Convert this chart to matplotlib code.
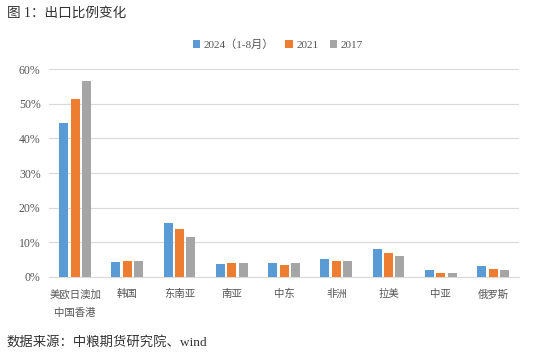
import matplotlib
matplotlib.use("Agg")
import matplotlib.pyplot as plt
import numpy as np

plt.rcParams['font.family'] = ['Liberation Serif', 'Noto Sans CJK SC', 'DejaVu Sans']

categories = ['美欧日澳加\n中国香港', '韩国', '东南亚', '南亚', '中东', '非洲', '拉美', '中亚', '俄罗斯']
series_names = ['2024（1-8月）', '2021', '2017']
v2024 = [44.5, 4.2, 15.5, 3.6, 4.0, 5.0, 7.9, 1.8, 3.2]
v2021 = [51.3, 4.5, 13.7, 3.9, 3.4, 4.5, 6.9, 1.0, 2.1]
v2017 = [56.6, 4.5, 11.6, 3.9, 4.0, 4.4, 5.9, 1.1, 1.9]
colors = ['#5B9BD5', '#ED7D31', '#A5A5A5']

fig = plt.figure(figsize=(5.5, 3.61), dpi=100)
ax = fig.add_axes([0.089, 0.2335, 0.855, 0.5745])

x = np.arange(len(categories))
w = 0.172
step = 0.217
for i, (vals, name) in enumerate(zip([v2024, v2021, v2017], series_names)):
    ax.bar(x + (i - 1) * step, np.array(vals) / 100, width=w, color=colors[i], label=name, zorder=3)

ax.set_xlim(-0.5, len(categories) - 0.5)
ax.set_ylim(0, 0.6)
ax.set_yticks(np.arange(0, 0.61, 0.1))
ax.set_yticklabels([f'{int(round(t*100))}%' for t in np.arange(0, 0.61, 0.1)], fontsize=8.5, color='#555555')
ax.set_xticks(x)
ax.set_xticklabels(categories, fontsize=7.5, color='#555555', linespacing=2.0, va='top')
ax.tick_params(axis='both', length=0)
ax.tick_params(axis='x', pad=9)
ax.tick_params(axis='y', pad=6)
ax.grid(axis='y', color='#D9D9D9', linewidth=0.8, zorder=0)
for s in ['top', 'right', 'left']:
    ax.spines[s].set_visible(False)
ax.spines['bottom'].set_color('#D9D9D9')
ax.spines['bottom'].set_linewidth(0.8)

fig.legend(loc='center', bbox_to_anchor=(0.505, 0.876), ncol=3, frameon=False, fontsize=8,
           handlelength=0.7, handleheight=0.7, handletextpad=0.3, columnspacing=1.0, labelcolor='#555555')

fig.text(0.012, 0.962, '图 1：出口比例变化', fontsize=9.8, color='#333333', va='center', ha='left')
fig.text(0.012, 0.05, '数据来源：中粮期货研究院、wind', fontsize=9.6, color='#333333', va='center', ha='left')

fig.savefig('out.png', dpi=100, facecolor='white')
